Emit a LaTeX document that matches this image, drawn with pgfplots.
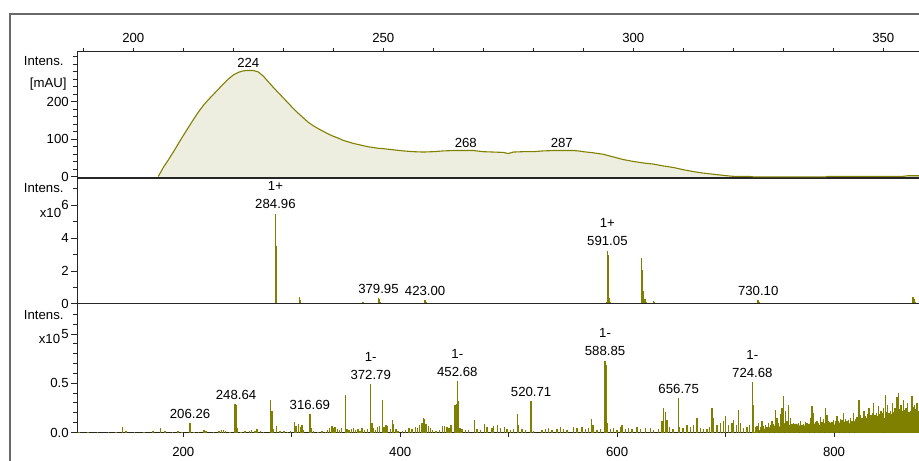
\documentclass[border=0pt]{standalone}
\usepackage{fontspec}
\setmainfont{Liberation Sans}
\usepackage{pgfplots}
\usepackage{pgfplotstable}
\pgfplotsset{compat=1.18}
\definecolor{ol}{RGB}{128,128,0}
\definecolor{uvfill}{RGB}{238,238,224}
\definecolor{framec}{RGB}{105,105,105}
\newcommand{\fs}{\fontsize{6.6}{9}\selectfont}

\pgfplotstableread{
x y
205.0 1
206 25
207 45
208 66
209 88
210 110
211 131
212 152
213 172
214 190
215 205
216 219
217 233
218 247
219 260
220 271
221 278
222 282
223 283
224 283
225 279
226 268
227 253
228 238
229 224
230 210
231 196
232 182
233 169
234 157
235 145
236 136
237 128
238 121
239 114
240 108
241 103
242 97
243 93
244 89
245 86
246 83
247 80
248 78
249 76
250 75
252 72
254 69
256 67
258 66
260 67
262 69
264 70
266 70
268 70
270 67
272 66
274 65
275 62
276 66
278 67
280 67
282 69
284 70
286 70
288 70
289 69
290 67
292 64
294 60
296 53
298 46
300 41
302 37
304 34
306 29
308 25
310 19
312 14
314 10
316 7
318 4
319.5 2
320 1.5
323 1.5
324 0
338.5 0
339 1.5
354 1.5
355 3
360 3
}\uvdata

\pgfplotstableread{
x y
284.96 5.47
285.96 3.50
286.9 0.08
307.0 0.42
308.0 0.25
365.5 0.12
379.95 0.38
380.9 0.30
381.9 0.15
423.0 0.25
424.0 0.10
590.1 0.10
591.05 3.24
592.05 3.00
593.0 0.35
594 0.10
622.5 2.80
623.5 2.05
624.5 0.80
625.5 0.30
626.5 0.15
633.5 0.20
634.5 0.10
719.5 0.08
730.1 0.25
731.1 0.10
873.0 0.40
874.0 0.30
875.0 0.10
}\posdata

\pgfplotstableread{
x y
104 0.01
112 0.008
121 0.01
131 0.006
138 0.01
143.8 0.055
147 0.012
155 0.008
164 0.01
172 0.015
179.2 0.05
183 0.02
190 0.01
195 0.012
199 0.01
206.26 0.10
210 0.01
214 0.008
219 0.03
221 0.015
228 0.01
233 0.02
235 0.025
237 0.025
239 0.02
243 0.01
247.6 0.29
248.64 0.28
249.6 0.05
253 0.01
257 0.015
261 0.02
263 0.03
266 0.015
268 0.04
271 0.02
274 0.01
280.6 0.33
281.6 0.22
282.6 0.04
286 0.07
289 0.02
293 0.015
296 0.01
299 0.02
302.7 0.11
304 0.07
306 0.09
308 0.06
309.5 0.08
311 0.03
316.69 0.19
317.7 0.05
320 0.02
324 0.01
328 0.02
331 0.01
333 0.03
335 0.05
337 0.07
338 0.05
340 0.06
342 0.04
344 0.03
346 0.05
349.7 0.38
351 0.04
353 0.03
355 0.04
357 0.05
359 0.03
361 0.04
363 0.02
365 0.05
367 0.03
370 0.04
372.79 0.49
373.8 0.10
375 0.05
377 0.03
379 0.06
381 0.07
383.6 0.33
385 0.06
387 0.08
388.5 0.07
391 0.04
392.8 0.13
394 0.09
396 0.04
398 0.02
402 0.02
405 0.03
408 0.05
411 0.04
414 0.06
416 0.05
418 0.08
420 0.10
421.5 0.15
422.5 0.14
424 0.09
426 0.07
428 0.05
430 0.03
433 0.02
436 0.03
439 0.07
441 0.07
443 0.06
445 0.05
447 0.08
450.7 0.28
451.7 0.29
452.68 0.52
453.7 0.32
455 0.05
457 0.04
460 0.03
463 0.03
468.3 0.13
470.8 0.04
473.8 0.03
477.5 0.09
480 0.06
484.6 0.05
486.1 0.07
489.8 0.08
492.3 0.05
496 0.06
498.4 0.04
501.5 0.03
504.6 0.04
508 0.19
509.2 0.08
512.3 0.04
515.3 0.03
520.71 0.32
523 0.02
530.7 0.03
533.8 0.04
536.9 0.05
540 0.03
544.5 0.04
547.6 0.06
550.7 0.04
553.8 0.03
559.9 0.06
563 0.05
567.6 0.06
570.7 0.04
573.7 0.05
576.2 0.14
577.7 0.08
581.4 0.03
584.5 0.04
588.85 0.73
589.85 0.69
591 0.10
593.7 0.04
596.8 0.05
599.9 0.03
603 0.06
604.5 0.08
607.6 0.04
610.6 0.05
613.7 0.04
618.3 0.06
621.4 0.04
626 0.05
630.6 0.05
633.7 0.03
638.3 0.04
641.4 0.12
642.9 0.25
644.4 0.21
646 0.13
648.4 0.06
651.5 0.04
656.75 0.35
657.7 0.06
660.7 0.05
664.4 0.08
667.5 0.06
670.6 0.08
673.7 0.15
676.7 0.05
679.8 0.04
682.9 0.04
685.3 0.06
687.5 0.25
689 0.15
692.1 0.08
695.2 0.10
698.3 0.12
699.8 0.17
702.9 0.08
705.9 0.10
707.5 0.13
710 0.08
712 0.23
713.6 0.10
716.7 0.05
719.8 0.06
722.2 0.08
724.68 0.51
725.7 0.28
727.5 0.06
729 0.07
730.5 0.10
732 0.06
733.6 0.12
735 0.07
736.7 0.08
738 0.06
739.7 0.10
741.3 0.08
742.8 0.12
744.3 0.09
745.9 0.23
747.4 0.15
749 0.10
750.5 0.19
752 0.25
753.6 0.37
755.1 0.22
756.6 0.12
758.2 0.28
759.7 0.15
761.2 0.09
762.8 0.10
764.3 0.07
765.9 0.08
767.4 0.10
769 0.12
770.5 0.08
772 0.09
773.6 0.11
775.1 0.10
776.6 0.09
778.2 0.15
779.7 0.27
781.2 0.20
782.8 0.11
784.3 0.12
785.8 0.10
787.4 0.16
788.9 0.11
790.5 0.14
792 0.25
793.5 0.18
795.1 0.12
796.6 0.10
798.1 0.11
799.7 0.13
801.2 0.12
802.8 0.17
804.3 0.12
805.8 0.14
807.4 0.13
808.9 0.20
810.5 0.14
812 0.12
813.5 0.13
815 0.15
816.6 0.12
818.1 0.20
819.7 0.14
821.2 0.16
822.8 0.33
824.3 0.18
825.8 0.15
827.4 0.22
828.6 0.17
829.8 0.15
831 0.19
832 0.25
833.1 0.17
834.1 0.18
835.4 0.20
836.6 0.30
837.8 0.18
839 0.20
840.1 0.17
841.2 0.27
842.3 0.19
843.3 0.22
844.6 0.20
845.8 0.25
847.3 0.38
848.4 0.21
849.5 0.28
850.7 0.20
852 0.22
853 0.19
854.1 0.30
855 0.21
856 0.25
857 0.20
858.1 0.36
859.6 0.40
860.7 0.24
861.8 0.28
863 0.22
864.2 0.33
865.3 0.23
866.4 0.25
867.9 0.30
869.2 0.21
870.4 0.22
871.9 0.37
873 0.26
874.1 0.28
875.3 0.24
876.5 0.30
877.7 0.22
879 0.34
880.2 0.25
881.5 0.29
882.7 0.23
884 0.31
885.2 0.26
886.5 0.28
887.5 0.24
}\negdata

\pgfplotstableread{
x y
725 0
730 0.02
740 0.05
745 0.07
750 0.06
755 0.10
760 0.07
765 0.09
770 0.06
775 0.08
780 0.10
785 0.07
790 0.09
795 0.11
800 0.08
805 0.10
810 0.11
815 0.09
820 0.12
825 0.13
830 0.11
835 0.14
840 0.13
845 0.15
850 0.14
855 0.16
860 0.15
865 0.17
870 0.16
875 0.18
880 0.16
885 0.18
890 0.17
}\negfloor

\begin{document}
\begin{tikzpicture}[x=0.5pt,y=0.5pt]
\useasboundingbox (0,0) rectangle (919,460);
\clip (0,0) rectangle (919,460);
\fill[white] (0,0) rectangle (919,460);
\draw[framec, line width=1pt] (935,445.7) -- (10,445.7) -- (10,-10);

\pgfplotsset{
  every axis/.append style={
    scale only axis, width=426.5pt,
    axis line style={line width=0.5pt, black!85},
    every tick/.style={line width=0.5pt, black!85},
    tick align=outside,
    ticklabel style={font=\fs, black},
    /pgf/number format/assume math mode=true,
    major tick length=2.8pt, minor tick length=2pt,
    yticklabel style={xshift=2.2pt},
  }
}

% ---------- UV panel ----------
\begin{axis}[at={(38.5pt,141pt)}, anchor=south west, height=63.35pt,
  xmin=188.74, xmax=359.34, ymin=-3, ymax=334,
  xtick={200,250,300,350}, minor xtick={190,200,...,350},
  xtick pos=right, xticklabel pos=right,
  xtick style={/pgfplots/major tick length=1.7pt, /pgfplots/minor tick length=1.7pt},
  ytick={0,100,200}, minor ytick={20,40,...,320}, ytick pos=left,
  xticklabel style={yshift=-2.2pt}]
\addplot[fill=uvfill, draw=none] table[x=x,y=y] {\uvdata} \closedcycle;
\addplot[ol, line width=0.55pt, mark=none] table[x=x,y=y] {\uvdata};
\node[font=\fs, anchor=south, inner sep=1.5pt] at (axis cs:223,283) {224};
\node[font=\fs, anchor=south, inner sep=1.5pt] at (axis cs:266.5,70) {268};
\node[font=\fs, anchor=south, inner sep=1.5pt] at (axis cs:285.7,70) {287};
\end{axis}

% ---------- MS positive panel ----------
\begin{axis}[at={(38.5pt,78pt)}, anchor=south west, height=63pt,
  xmin=102.0, xmax=888.5, ymin=0, ymax=7.64,
  xtick=\empty,
  ytick={0,2,4,6}, minor ytick={1,3,5,7}, ytick pos=left]
\addplot[ycomb, ol, line width=0.8pt, mark=none] table[x=x,y=y] {\posdata};
\node[font=\fs, anchor=south, align=center, inner sep=2.2pt] at (axis cs:284.96,5.47) {1+\\284.96};
\node[font=\fs, anchor=south, inner sep=2pt] at (axis cs:379.95,0.38) {379.95};
\node[font=\fs, anchor=south, inner sep=2pt] at (axis cs:423.0,0.25) {423.00};
\node[font=\fs, anchor=south, align=center, inner sep=2.2pt] at (axis cs:591.05,3.24) {1+\\591.05};
\node[font=\fs, anchor=south, inner sep=2pt] at (axis cs:730.1,0.25) {730.10};
\end{axis}

% ---------- MS negative panel ----------
\begin{axis}[at={(38.5pt,13.75pt)}, anchor=south west, height=64.25pt,
  xmin=102.0, xmax=888.5, ymin=0, ymax=1.305,
  xtick={200,300,...,800}, xticklabels={200,,400,,600,,800}, xtick pos=left,
  xtick style={/pgfplots/major tick length=2pt},
  xticklabel style={yshift=-1.3pt},
  ytick={0,0.5,1}, yticklabels={0.0,0.5,5},
  minor ytick={0.1,0.2,0.3,0.4,0.6,0.7,0.8,0.9,1.1,1.2}, ytick pos=left]
\addplot[fill=ol, draw=none] table[x=x,y=y] {\negfloor} \closedcycle;
\addplot[ycomb, ol, line width=0.75pt, mark=none] table[x=x,y=y] {\negdata};
\node[font=\fs, anchor=south, inner sep=2pt] at (axis cs:206.26,0.10) {206.26};
\node[font=\fs, anchor=south, inner sep=2pt] at (axis cs:248.64,0.29) {248.64};
\node[font=\fs, anchor=south, inner sep=2pt] at (axis cs:316.69,0.19) {316.69};
\node[font=\fs, anchor=south, align=center, inner sep=2.2pt] at (axis cs:372.79,0.49) {1-\\372.79};
\node[font=\fs, anchor=south, align=center, inner sep=2.2pt] at (axis cs:452.68,0.52) {1-\\452.68};
\node[font=\fs, anchor=south, inner sep=2pt] at (axis cs:520.71,0.32) {520.71};
\node[font=\fs, anchor=south, align=center, inner sep=2.2pt] at (axis cs:588.85,0.73) {1-\\588.85};
\node[font=\fs, anchor=south, inner sep=2pt] at (axis cs:656.75,0.35) {656.75};
\node[font=\fs, anchor=south, align=center, inner sep=2.2pt] at (axis cs:724.68,0.51) {1-\\724.68};
\end{axis}

% ---------- left labels ----------
\node[font=\fs, anchor=east, inner sep=0pt] at (64,398.5) {Intens.};
\node[font=\fs, anchor=east, inner sep=0pt] at (67,376) {[mAU]};
\node[font=\fs, anchor=east, inner sep=0pt] at (64,271.7) {Intens.};
\node[font=\fs, anchor=east, inner sep=0pt] at (61.5,247.5) {x10};
\node[font=\fs, anchor=east, inner sep=0pt] at (64,145) {Intens.};
\node[font=\fs, anchor=east, inner sep=0pt] at (60.5,121) {x10};
\end{tikzpicture}
\end{document}
